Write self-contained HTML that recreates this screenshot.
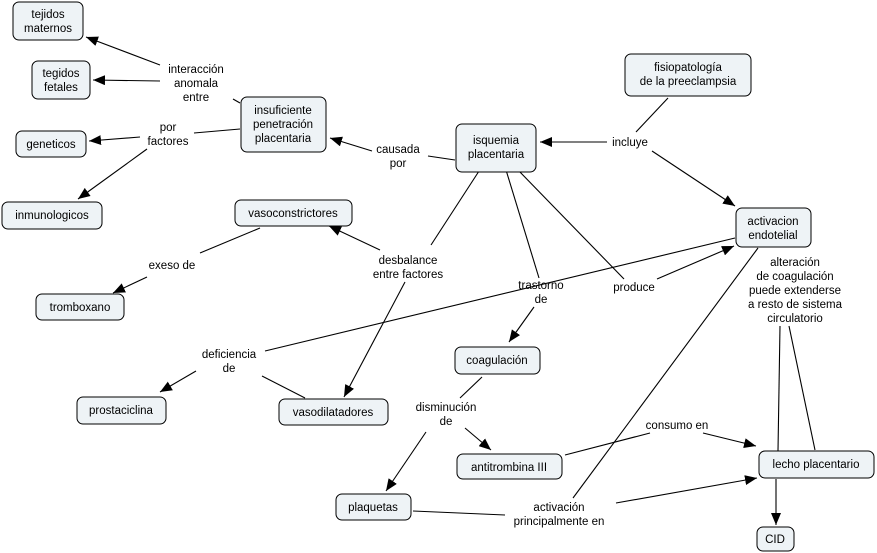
<!DOCTYPE html>
<html><head><meta charset="utf-8"><style>
body{margin:0;background:#fff}
svg{display:block}
text{font-family:"Liberation Sans","DejaVu Sans",sans-serif;font-size:11.5px;fill:#000;text-anchor:middle}
rect{fill:#eef3f6;stroke:#000;stroke-width:1}
line{stroke:#000;stroke-width:1.1}
</style></head><body>
<svg width="877" height="553" viewBox="0 0 877 553" xmlns="http://www.w3.org/2000/svg">
<defs><marker id="a" viewBox="0 0 12 10" refX="12" refY="5" markerWidth="12" markerHeight="10" markerUnits="userSpaceOnUse" orient="auto"><path d="M0,0L12,5L0,10z" fill="#000"/></marker></defs>
<g>
<line x1="240" y1="103" x2="233" y2="99"/>
<line x1="160" y1="65" x2="86" y2="37" marker-end="url(#a)"/>
<line x1="160" y1="81" x2="93" y2="80" marker-end="url(#a)"/>
<line x1="240" y1="129" x2="194" y2="133"/>
<line x1="140" y1="137" x2="89" y2="141" marker-end="url(#a)"/>
<line x1="147" y1="149" x2="78" y2="199" marker-end="url(#a)"/>
<line x1="455" y1="160" x2="428" y2="156"/>
<line x1="372" y1="151" x2="330" y2="138" marker-end="url(#a)"/>
<line x1="607" y1="142" x2="540" y2="142" marker-end="url(#a)"/>
<line x1="668" y1="98" x2="636" y2="132"/>
<line x1="652" y1="151" x2="735" y2="206" marker-end="url(#a)"/>
<line x1="481" y1="168" x2="431" y2="245"/>
<line x1="380" y1="250" x2="329" y2="226" marker-end="url(#a)"/>
<line x1="405" y1="282" x2="344" y2="397" marker-end="url(#a)"/>
<line x1="260" y1="228" x2="200" y2="253"/>
<line x1="147" y1="277" x2="113" y2="293" marker-end="url(#a)"/>
<line x1="506" y1="170" x2="539" y2="278"/>
<line x1="534" y1="307" x2="509" y2="342" marker-end="url(#a)"/>
<line x1="518" y1="170" x2="624" y2="279"/>
<line x1="657" y1="279" x2="734" y2="246" marker-end="url(#a)"/>
<line x1="735" y1="238" x2="265" y2="351"/>
<line x1="196" y1="371" x2="160" y2="392" marker-end="url(#a)"/>
<line x1="262" y1="376" x2="305" y2="398"/>
<line x1="482" y1="377" x2="460" y2="398"/>
<line x1="465" y1="428" x2="491" y2="450" marker-end="url(#a)"/>
<line x1="426" y1="432" x2="386" y2="491" marker-end="url(#a)"/>
<line x1="565" y1="455" x2="650" y2="433"/>
<line x1="703" y1="433" x2="756" y2="446" marker-end="url(#a)"/>
<line x1="758" y1="248" x2="573" y2="498"/>
<line x1="413" y1="511" x2="505" y2="515"/>
<line x1="616" y1="503" x2="757" y2="478" marker-end="url(#a)"/>
<line x1="780" y1="326" x2="778" y2="451"/>
<line x1="789" y1="326" x2="815" y2="450"/>
<line x1="776" y1="479" x2="776" y2="525" marker-end="url(#a)"/>
</g>
<g>
<rect x="13" y="2" width="70" height="38" rx="6"/><text x="48" y="18">tejidos</text><text x="48" y="32">maternos</text>
<rect x="32" y="61" width="58" height="38" rx="6"/><text x="61" y="77">tegidos</text><text x="61" y="91">fetales</text>
<rect x="241" y="97" width="85" height="55" rx="6"/><text x="283" y="114">insuficiente</text><text x="283" y="128">penetración</text><text x="283" y="142">placentaria</text>
<rect x="16" y="131" width="70" height="26" rx="6"/><text x="51" y="148">geneticos</text>
<rect x="2" y="202" width="100" height="27" rx="6"/><text x="52" y="219">inmunologicos</text>
<rect x="456" y="124" width="80" height="48" rx="6"/><text x="496" y="144">isquemia</text><text x="496" y="158">placentaria</text>
<rect x="625" y="54" width="126" height="42" rx="6"/><text x="688" y="71">fisiopatología</text><text x="688" y="85">de la preeclampsia</text>
<rect x="736" y="208" width="75" height="39" rx="6"/><text x="773" y="225">activacion</text><text x="773" y="239">endotelial</text>
<rect x="235" y="200" width="117" height="26" rx="6"/><text x="293" y="217">vasoconstrictores</text>
<rect x="36" y="294" width="88" height="26" rx="6"/><text x="80" y="311">tromboxano</text>
<rect x="455" y="347" width="85" height="27" rx="6"/><text x="497" y="364">coagulación</text>
<rect x="77" y="397" width="89" height="27" rx="6"/><text x="121" y="414">prostaciclina</text>
<rect x="279" y="399" width="109" height="26" rx="6"/><text x="333" y="416">vasodilatadores</text>
<rect x="457" y="454" width="105" height="25" rx="6"/><text x="509" y="471">antitrombina III</text>
<rect x="759" y="451" width="115" height="27" rx="6"/><text x="816" y="468">lecho placentario</text>
<rect x="336" y="494" width="75" height="26" rx="6"/><text x="373" y="511">plaquetas</text>
<rect x="757" y="527" width="37" height="24" rx="6"/><text x="775" y="543">CID</text>
</g>
<g>
<text x="196" y="73">interacción</text><text x="196" y="87">anomala</text><text x="196" y="101">entre</text>
<text x="168" y="131">por</text><text x="168" y="145">factores</text>
<text x="398" y="153">causada</text><text x="398" y="167">por</text>
<text x="630" y="146">incluye</text>
<text x="408" y="264">desbalance</text><text x="408" y="278">entre  factores</text>
<text x="172" y="269">exeso de</text>
<text x="541" y="289">trastorno</text><text x="541" y="303">de</text>
<text x="634" y="291">produce</text>
<text x="229" y="358">deficiencia</text><text x="229" y="372">de</text>
<text x="446" y="411">disminución</text><text x="446" y="425">de</text>
<text x="677" y="429">consumo en</text>
<text x="559" y="511">activación</text><text x="559" y="525">principalmente en</text>
<text x="795" y="266">alteración</text><text x="795" y="280">de coagulación</text><text x="795" y="294">puede extenderse</text><text x="795" y="308">a resto de sistema</text><text x="795" y="322">circulatorio</text>
</g>
</svg>
</body></html>
